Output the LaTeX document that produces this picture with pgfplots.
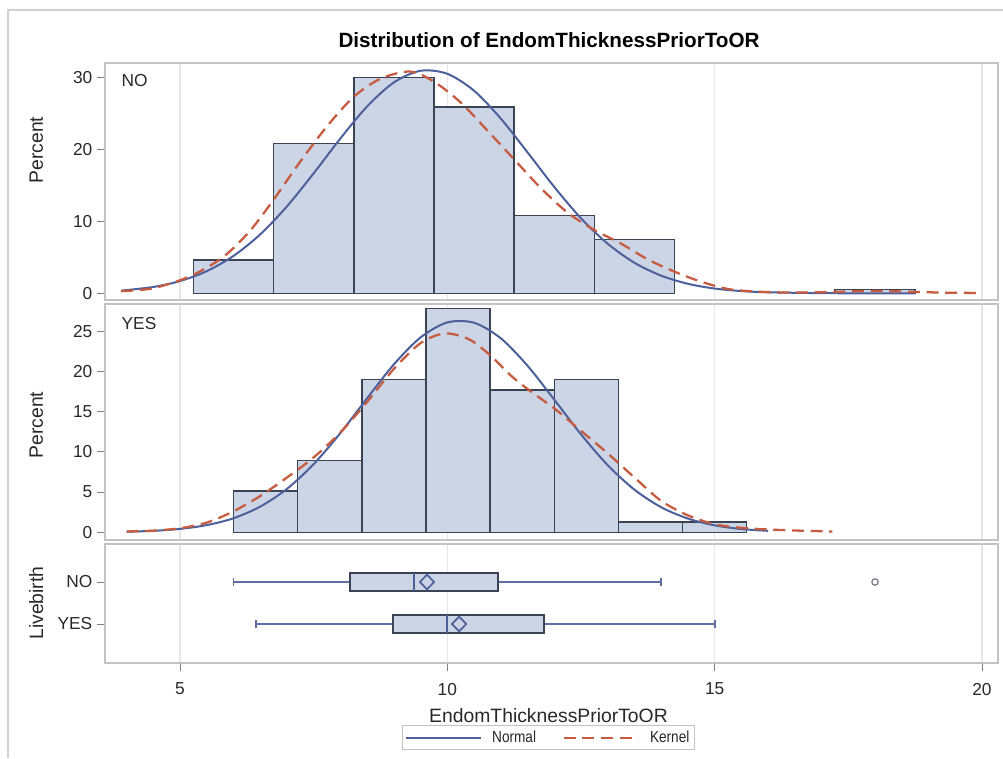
\documentclass[border=0pt]{standalone}
\usepackage{fontspec}
\setmainfont{Liberation Sans}
\usepackage{graphicx}
\usepackage{pgfplots}
\usepgfplotslibrary{statistics}
\pgfplotsset{compat=1.18}

\definecolor{barfill}{RGB}{203,213,230}
\definecolor{baredge}{RGB}{58,68,84}
\definecolor{sasblue}{RGB}{76,96,156}
\definecolor{kern}{RGB}{199,91,63}
\definecolor{frame}{RGB}{195,195,195}
\definecolor{gridc}{RGB}{230,230,230}
\definecolor{whisk}{RGB}{95,110,160}
\definecolor{txt}{RGB}{40,40,40}

\pgfplotstableread{
x y
5.25 4.6
6.75 20.8
8.25 30.0
9.75 25.9
11.25 10.8
12.75 7.5
14.25 0
}\histno
\pgfplotstableread{
x y
17.25 0.5
18.75 0
}\histnoout
\pgfplotstableread{
x y
6.0 5.1
7.2 8.9
8.4 19.0
9.6 27.8
10.8 17.7
12.0 19.0
13.2 1.3
14.4 1.3
15.6 0
}\histyes

\pgfplotsset{
  panel/.style={
    scale only axis, width=669.75pt, xmin=3.597, xmax=20.30,
    axis line style={draw=frame, line width=0.8pt},
    xtick={5,10,15,20}, xmajorgrids,
    major grid style={draw=gridc, line width=0.8pt},
    tick style={draw=gray, line width=0.6pt}, tick align=outside,
    major tick length=6pt,
    xtick pos=bottom, ytick pos=left,
    ticklabel style={font=\fontsize{13}{15}\selectfont, text=txt},
    xticklabel style={yshift=-5.5pt},
    label style={font=\fontsize{14.5}{17}\selectfont, text=txt},
    /pgf/number format/assume math mode=true,
  },
  normal/.style={sasblue, line width=1.5pt, smooth},
  kernel/.style={kern, line width=1.7pt, dash pattern=on 9pt off 5pt, smooth},
  hist/.style={ybar interval, fill=barfill, draw=baredge, line width=1.1pt},
}

\begin{document}
\begin{tikzpicture}
\path[use as bounding box] (0pt,0pt) rectangle (752.25pt,568.5pt);
\draw[gridc!80!gray, line width=0.8pt] (6pt,0pt) -- (6pt,561pt) -- (752.25pt,561pt);
\node[font=\fontsize{15.5}{18}\selectfont\bfseries, text=black] at (411.75pt,538.5pt) {Distribution of EndomThicknessPriorToOR};

% Panel NO
\begin{axis}[panel, at={(78.75pt,343.5pt)}, anchor=south west, height=177.75pt,
  ymin=-0.93, ymax=31.99, ytick={0,10,20,30}, xticklabels={}, xtick style={draw=none},
  ylabel={Percent}, ylabel style={at={(axis description cs:-0.077,0.633)}, anchor=center}]
\addplot[hist] table[x=x,y=y] {\histno};
\addplot[hist] table[x=x,y=y] {\histnoout};
\addplot[normal] coordinates {(3.9,0.37) (4.5,0.88) (5.0,1.70) (5.5,3.07) (6.0,5.19) (6.5,8.18) (7.0,12.07) (7.5,16.67) (8.0,21.51) (8.5,25.96) (9.0,29.29) (9.5,30.91) (10.0,30.49) (10.5,28.14) (11.0,24.27) (11.5,19.58) (12.0,14.77) (12.5,10.42) (13.0,6.88) (13.5,4.24) (14.0,2.45) (14.5,1.32) (15.0,0.66) (15.5,0.31) (16.0,0.14) (17.0,0.02) (18.0,0.0) (18.75,0.0)};
\addplot[kernel] coordinates {(3.9,0.3) (4.5,0.7) (5.2,2.4) (5.8,5.0) (6.3,8.6) (6.75,13.0) (7.25,18.3) (7.75,23.2) (8.25,27.3) (8.75,29.8) (9.3,30.8) (9.75,29.4) (10.25,26.5) (10.75,22.6) (11.25,18.6) (11.75,14.6) (12.25,11.2) (12.75,8.8) (13.25,6.9) (13.75,4.7) (14.25,3.0) (14.75,1.6) (15.25,0.6) (15.75,0.25) (16.25,0.12) (16.75,0.12) (17.25,0.2) (17.75,0.3) (18.25,0.3) (18.75,0.2) (19.25,0.1) (19.9,0.05)};
\node[anchor=west, font=\fontsize{13}{15}\selectfont, text=txt] at (rel axis cs:0.0134,0.924) {NO};
\end{axis}

% Panel YES
\begin{axis}[panel, at={(78.75pt,163.5pt)}, anchor=south west, height=177pt,
  ymin=-0.96, ymax=28.36, ytick={0,5,10,15,20,25}, xticklabels={}, xtick style={draw=none},
  ylabel={Percent}, ylabel style={at={(axis description cs:-0.077,0.487)}, anchor=center}]
\addplot[hist] table[x=x,y=y] {\histyes};
\addplot[normal] coordinates {(4.0,0.07) (4.5,0.18) (5.0,0.42) (5.5,0.89) (6.0,1.74) (6.5,3.19) (7.0,5.39) (7.5,8.47) (8.0,12.33) (8.5,16.65) (9.0,20.86) (9.5,24.21) (10.0,26.07) (10.5,26.03) (11.0,24.10) (11.5,20.69) (12.0,16.48) (12.5,12.17) (13.0,8.33) (13.5,5.29) (14.0,3.11) (14.5,1.70) (15.0,0.86) (15.5,0.40) (16.0,0.18)};
\addplot[kernel] coordinates {(4.0,0.1) (4.5,0.2) (5.0,0.5) (5.5,1.2) (6.0,2.6) (6.5,4.5) (7.0,6.8) (7.5,9.3) (8.0,12.4) (8.5,16.2) (9.0,20.3) (9.5,23.5) (9.95,24.7) (10.4,24.0) (10.8,22.0) (11.2,19.4) (11.6,17.3) (12.0,15.4) (12.5,12.6) (13.0,9.8) (13.5,6.8) (14.0,3.9) (14.5,2.1) (15.0,1.0) (15.5,0.55) (16.0,0.35) (16.5,0.22) (17.2,0.1)};
\node[anchor=west, font=\fontsize{13}{15}\selectfont, text=txt] at (rel axis cs:0.0134,0.919) {YES};
\end{axis}

% Box plot panel
\begin{axis}[panel, at={(78.75pt,71.25pt)}, anchor=south west, height=89.25pt,
  y dir=reverse, ymin=0.095, ymax=2.93, ytick={1,2}, yticklabels={NO,YES},
  xlabel={EndomThicknessPriorToOR},
  xlabel style={at={(axis description cs:0.4966,-0.445)}, anchor=center},
  ylabel={Livebirth}, ylabel style={at={(axis description cs:-0.077,0.504)}, anchor=center},
  legend style={at={(axis description cs:0.4966,-0.626)}, anchor=center, draw=frame,
    line width=0.6pt, font=\fontsize{12}{14}\selectfont, text=txt, inner sep=2pt,
    /tikz/every even column/.append style={column sep=18pt}},
  legend columns=2]
\addlegendimage{legend image code/.code={\draw[sasblue, line width=1.5pt] (0pt,0pt) -- (56pt,0pt);}}
\addlegendentry{\hspace{6pt}\scalebox{0.85}[1]{Normal}}
\addlegendimage{legend image code/.code={\draw[kern, line width=1.5pt, dash pattern=on 9pt off 5pt] (0pt,0pt) -- (56pt,0pt);}}
\addlegendentry{\hspace{6pt}\scalebox{0.85}[1]{Kernel}}
\addplot[forget plot, boxplot prepared={draw position=1, lower whisker=6.0, lower quartile=8.18,
  median=9.38, upper quartile=10.95, upper whisker=14.0, box extend=0.43, whisker extend=0.2,
  every box/.style={draw=baredge, fill=barfill, line width=1.1pt},
  every whisker/.style={draw=whisk, line width=1.3pt},
  every median/.style={draw=sasblue, line width=1.1pt}}] coordinates {};
\addplot[forget plot, boxplot prepared={draw position=2, lower whisker=6.42, lower quartile=8.98,
  median=9.99, upper quartile=11.81, upper whisker=15.0, box extend=0.43, whisker extend=0.2,
  every box/.style={draw=baredge, fill=barfill, line width=1.1pt},
  every whisker/.style={draw=whisk, line width=1.3pt},
  every median/.style={draw=sasblue, line width=1.1pt}}] coordinates {};
\addplot[forget plot, only marks, mark=diamond, mark size=5.5pt,
  mark options={draw=sasblue, line width=1.3pt, xscale=1.3}] coordinates {(9.62,1) (10.22,2)};
\addplot[forget plot, only marks, mark=o, mark size=2.4pt,
  mark options={draw=gray!80!sasblue, fill=gray!40, line width=0.9pt}] coordinates {(18.0,1)};
\end{axis}
\end{tikzpicture}
\end{document}
